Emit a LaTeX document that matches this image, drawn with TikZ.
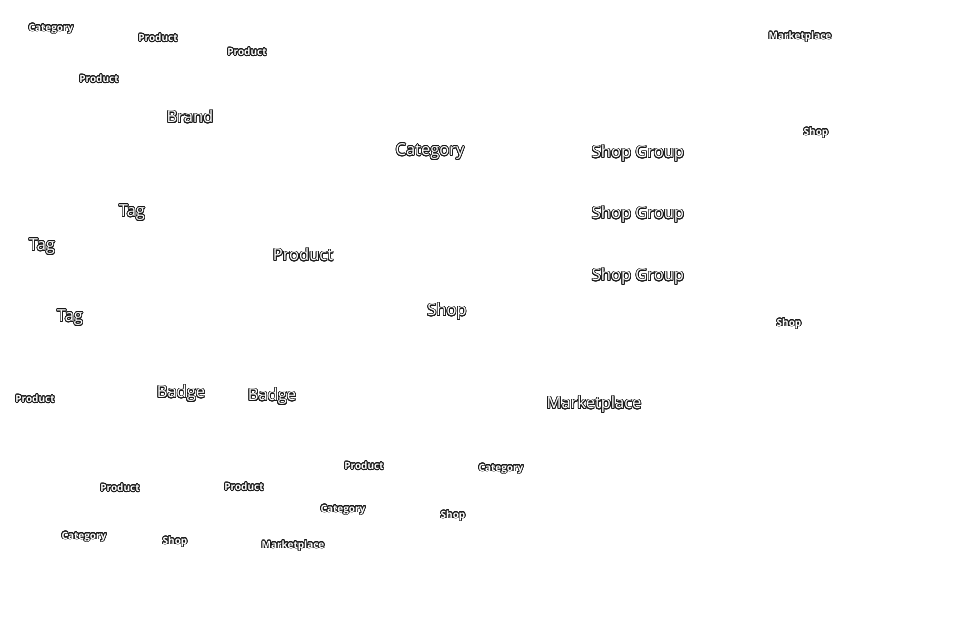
\documentclass[tikz,border=0pt]{standalone}
\usepackage{fontspec}
\setmainfont{Open Sans}
\usepackage{contour}
\usepackage{tikz}
\contourlength{0.7pt}
\contournumber{24}

\newcommand{\halo}[1]{\contour{black!90}{\textcolor{white}{#1}}}

\begin{document}
\begin{tikzpicture}[
      x=1pt, y=-1pt,
      % Define styles for the labels
      base/.style={
          inner sep=0pt,
          yshift=-2pt,
          text centered
        },
      big/.style={
          base,
          font=\fontsize{16.5}{17}\selectfont
        },
      small/.style={
          base,
          font=\fontsize{10}{11}\selectfont\bfseries
        }
    ]

    \useasboundingbox (0,0) rectangle (965,623);

    % Place the large labels
    \node[big] (brand) at (190,115) {\halo{Brand}};
    \node[big] (category) at (430,150) {\halo{Category}};
    \node[big] (group_a) at (638,152) {\halo{Shop Group}};
    \node[big] (group_b) at (638,213) {\halo{Shop Group}};
    \node[big] (group_c) at (638,275) {\halo{Shop Group}};
    \node[big] (tag_a) at (132,211) {\halo{Tag}};
    \node[big] (tag_b) at (42,245) {\halo{Tag}};
    \node[big] (product) at (303,253) {\halo{Product}};
    \node[big] (shop) at (447,310) {\halo{Shop}};
    \node[big] (tag_c) at (70,316) {\halo{Tag}};
    \node[big] (badge_a) at (181,392) {\halo{Badge}};
    \node[big] (badge_b) at (272,395) {\halo{Badge}};
    \node[big] (marketplace) at (594,403) {\halo{Marketplace}};

    % Place the small labels
    \node[small] (category_a) at (51,27) {\halo{Category}};
    \node[small] (product_a) at (158,36) {\halo{Product}};
    \node[small] (product_b) at (247,50) {\halo{Product}};
    \node[small] (product_c) at (99,77) {\halo{Product}};
    \node[small] (marketplace_a) at (800,35) {\halo{Marketplace}};
    \node[small] (shop_a) at (816,131) {\halo{Shop}};
    \node[small] (shop_b) at (789,322) {\halo{Shop}};
    \node[small] (product_d) at (35,397) {\halo{Product}};
    \node[small] (product_e) at (364,464) {\halo{Product}};
    \node[small] (category_b) at (501,467) {\halo{Category}};
    \node[small] (product_f) at (120,486) {\halo{Product}};
    \node[small] (product_g) at (244,485) {\halo{Product}};
    \node[small] (category_c) at (343,508) {\halo{Category}};
    \node[small] (shop_c) at (453,514) {\halo{Shop}};
    \node[small] (category_d) at (84,535) {\halo{Category}};
    \node[small] (shop_d) at (175,540) {\halo{Shop}};
    \node[small] (marketplace_b) at (293,544) {\halo{Marketplace}};

  \end{tikzpicture}
\end{document}
